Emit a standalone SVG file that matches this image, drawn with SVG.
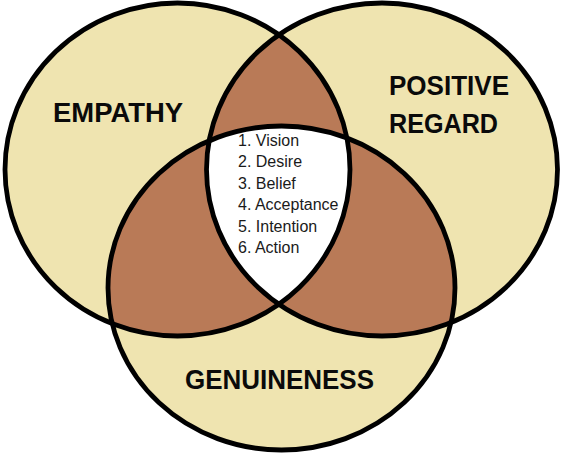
<svg xmlns="http://www.w3.org/2000/svg" width="562" height="453" viewBox="0 0 562 453">
<style>
.base{fill:#EFE4B0;stroke:none}
.pair{fill:#B97A57;stroke:none}
.core{fill:#FFFFFF;stroke:none}
.ring{fill:none;stroke:#000;stroke-width:4.8}
.lbl{font-family:"Liberation Sans",Arial,sans-serif;font-weight:bold;font-size:27px;fill:#0a0a0a}
.item{font-family:"Liberation Sans",Arial,sans-serif;font-size:16px;fill:#1a1a1a}
</style>
<defs>
<ellipse id="eA" cx="177.5" cy="169.5" rx="172.5" ry="166.5"/>
<ellipse id="eB" cx="382" cy="169.5" rx="175.5" ry="166.5"/>
<ellipse id="eC" cx="281.5" cy="288" rx="173.5" ry="162"/>
<clipPath id="cA"><use href="#eA"/></clipPath>
<clipPath id="cB"><use href="#eB"/></clipPath>
<clipPath id="cC"><use href="#eC"/></clipPath>
</defs>
<rect width="562" height="453" fill="#FFFFFF"/>
<g id="empathy">
<use href="#eA" class="base"/>
</g>
<g id="positive-regard">
<use href="#eB" class="base"/>
</g>
<g id="genuineness">
<use href="#eC" class="base"/>
</g>
<g id="overlaps">
<use href="#eB" class="pair" clip-path="url(#cA)"/>
<use href="#eC" class="pair" clip-path="url(#cA)"/>
<use href="#eC" class="pair" clip-path="url(#cB)"/>
<g clip-path="url(#cA)"><use href="#eC" class="core" clip-path="url(#cB)"/></g>
</g>
<g id="outlines">
<use href="#eA" class="ring"/>
<use href="#eB" class="ring"/>
<use href="#eC" class="ring"/>
</g>
<g id="labels">
<text class="lbl" x="53" y="122" textLength="130" lengthAdjust="spacingAndGlyphs">EMPATHY</text>
<text class="lbl" x="389" y="95" textLength="120" lengthAdjust="spacingAndGlyphs">POSITIVE</text>
<text class="lbl" x="389" y="133" textLength="109" lengthAdjust="spacingAndGlyphs">REGARD</text>
<text class="lbl" x="185" y="389" textLength="189" lengthAdjust="spacingAndGlyphs">GENUINENESS</text>
</g>
<g id="steps">
<text class="item" x="238" y="146">1. Vision</text>
<text class="item" x="238" y="167">2. Desire</text>
<text class="item" x="238" y="189">3. Belief</text>
<text class="item" x="238" y="210">4. Acceptance</text>
<text class="item" x="238" y="232">5. Intention</text>
<text class="item" x="238" y="253">6. Action</text>
</g>
</svg>
